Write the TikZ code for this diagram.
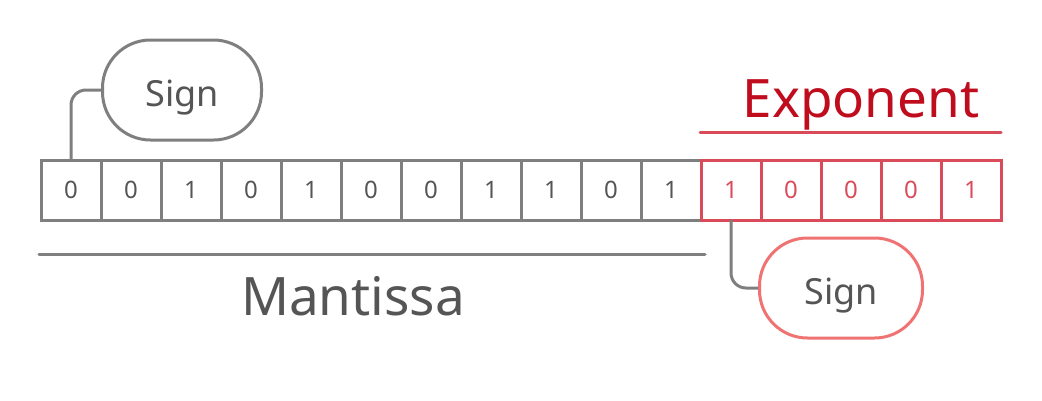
\documentclass[tikz,border=0pt]{standalone}
\usepackage{fontspec}
\setmainfont{Noto Sans}
\definecolor{lgrey}{HTML}{7F7F7F}
\definecolor{tgrey}{HTML}{555555}
\definecolor{cred}{HTML}{DA4B5A}
\definecolor{dred}{HTML}{C00D1E}
\definecolor{pink}{HTML}{F07373}
\begin{document}
\begin{tikzpicture}[x=1pt,y=-1pt,
  cellbox/.style={draw=lgrey,line width=3pt,minimum width=60pt,minimum height=60pt,inner sep=0pt,outer sep=0pt,text=tgrey,font=\fontsize{24}{24}\selectfont},
  redcell/.style={cellbox,draw=cred,text=cred},
  pill/.style={draw=lgrey,line width=3pt,rounded corners=48pt,minimum width=159pt,minimum height=100pt,inner sep=0pt,text height=32pt,text depth=0pt,text=tgrey,font=\fontsize{36}{36}\selectfont},
  conn/.style={draw=lgrey,line width=3pt,rounded corners=15pt},
  bigtext/.style={font=\fontsize{53}{53}\selectfont,anchor=base,inner sep=0pt},
  rule/.style={line width=3pt,line cap=round}]
\useasboundingbox (0,0) rectangle (1042,400);
\foreach \b [count=\i] in {0,0,1,0,1,0,0,1,1,0,1}
  \node[cellbox] (c\i) at ({41+60*(\i-1)+30},190) {\b};
\foreach \b [count=\j from 12] in {1,0,0,0,1}
  \node[redcell] (c\j) at ({41+60*(\j-1)+30},190) {\b};
\node[pill] (sign1) at (182,90) {Sign};
\node[pill,draw=pink,minimum width=163pt] (sign2) at (841,288) {Sign};
\draw[conn] (c1.north) |- (sign1.west);
\draw[conn] (c12.south) |- (sign2.west);
\node[bigtext,text=dred] (exp) at (861,117) {Exponent};
\node[bigtext,text=tgrey] (man) at (353,315) {Mantissa};
\coordinate (e1) at (700,132);
\coordinate (e2) at (1001,132);
\coordinate (m1) at (39,254);
\coordinate (m2) at (705,254);
\draw[rule,cred] (e1) -- (e2);
\draw[rule,lgrey] (m1) -- (m2);
\end{tikzpicture}
\end{document}
